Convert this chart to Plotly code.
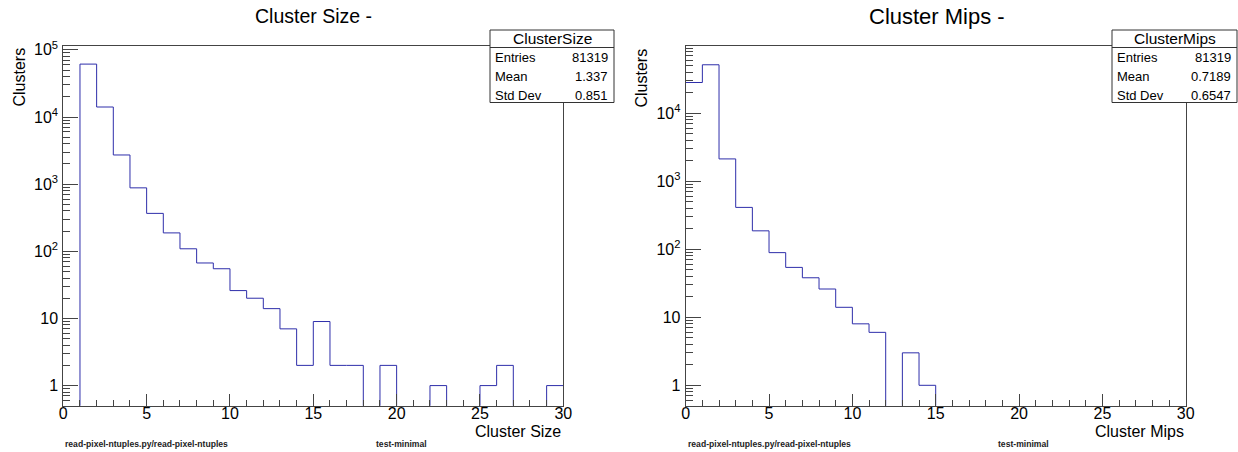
import plotly.graph_objects as go
import numpy as np

W, H = 1238, 452

# ---- data ----
bin_edges = list(range(0, 31))  # 30 bins of width 1 from 0 to 30
size_counts = [0, 61400, 14100, 2720, 881, 367, 188, 109, 67, 55,
               26, 20, 14, 7, 2, 9, 2, 2, 0, 2,
               0, 0, 1, 0, 0, 1, 2, 0, 0, 1]
mips_counts = [28100, 51200, 2120, 411, 186, 89, 54, 38, 26, 14,
               8, 6, 0, 3, 1, 0, 0, 0, 0, 0,
               0, 0, 0, 0, 0, 0, 0, 0, 0, 0]
titles = ["Cluster Size -", "Cluster Mips -"]
xtitles = ["Cluster Size", "Cluster Mips"]
stat_names = ["ClusterSize", "ClusterMips"]
stat_labels = ["Entries", "Mean", "Std Dev"]
size_stats = ["81319", "1.337", "0.851"]
mips_stats = ["81319", "0.7189", "0.6547"]
ytickvals = [1, 10, 100, 1e3, 1e4, 1e5]
yticktext = ["1", "10", "10<sup>2</sup>", "10<sup>3</sup>", "10<sup>4</sup>", "10<sup>5</sup>"]
ymin = 0.5
ymax_size = 1.15e5
ymax_mips = 9.73e4
footer_left = "read-pixel-ntuples.py/read-pixel-ntuples"
footer_mid = "test-minimal"

FONT = "Liberation Sans, Arial, sans-serif"
LINE = "#2e2eaa"
AX = "#444444"

def px(x):
    return x / W

def py(y):
    return 1 - y / H

fig = go.Figure()

for i, counts in enumerate([size_counts, mips_counts]):
    # empty bins fall below the log-axis floor (drawn clipped, like ROOT)
    ys = [c if c > 0 else ymin * 0.2 for c in counts]
    ys = ys + [ys[-1]]
    fig.add_trace(go.Scatter(
        x=bin_edges, y=ys, mode="lines", line=dict(color=LINE, width=1, shape="hv"),
        xaxis="x" if i == 0 else "x2", yaxis="y" if i == 0 else "y2",
        showlegend=False, hoverinfo="skip"))

minor_vals = [m * 10 ** k for k in range(-1, 6) for m in range(2, 10)]

xdoms = [[px(63.3), px(563.3)], [px(685.7), px(1185.7)]]
ydom = [py(405.8), py(45.8)]

def xaxis(dom, anchor):
    return dict(domain=dom, anchor=anchor, range=[0, 30], tickvals=[0, 5, 10, 15, 20, 25, 30],
                ticks="inside", ticklen=12, tickwidth=1, tickcolor=AX, ticklabelstandoff=-7,
                minor=dict(ticks="inside", ticklen=6, dtick=1, tickcolor=AX, tickwidth=1, showgrid=False),
                showline=True, linecolor=AX, linewidth=1, mirror=True, showgrid=False, zeroline=False,
                tickfont=dict(family=FONT, size=16, color="black"), automargin=False)

def yaxis(top, anchor):
    return dict(domain=ydom, anchor=anchor, type="log", range=[np.log10(ymin), np.log10(top)],
                tickvals=ytickvals, ticktext=yticktext,
                ticks="inside", ticklen=15, tickwidth=1, tickcolor=AX, ticklabelstandoff=1,
                minor=dict(ticks="inside", ticklen=7, tickvals=minor_vals, tickcolor=AX, tickwidth=1, showgrid=False),
                showline=True, linecolor=AX, linewidth=1, mirror=True, showgrid=False, zeroline=False,
                tickfont=dict(family=FONT, size=16, color="black"), automargin=False)

fig.update_layout(
    width=W, height=H, margin=dict(l=0, r=0, t=0, b=0, autoexpand=False),
    paper_bgcolor="white", plot_bgcolor="white",
    xaxis=xaxis(xdoms[0], "y"), yaxis=yaxis(ymax_size, "x"),
    xaxis2=xaxis(xdoms[1], "y2"), yaxis2=yaxis(ymax_mips, "x2"),
)

ann = []
shapes = []

# titles
ann.append(dict(text=titles[0], x=px(313.3), y=py(15.5), xref="paper", yref="paper",
                showarrow=False, font=dict(family=FONT, size=19.5, color="black"),
                xanchor="center", yanchor="middle"))
ann.append(dict(text=titles[1], x=px(936.5), y=py(16.5), xref="paper", yref="paper",
                showarrow=False, font=dict(family=FONT, size=22, color="black"),
                xanchor="center", yanchor="middle"))

# axis titles
for i, xr in enumerate([563.3, 1185.7]):
    ann.append(dict(text=xtitles[i], x=px(xr), y=py(431), xref="paper", yref="paper",
                    showarrow=False, font=dict(family=FONT, size=16, color="black"),
                    xanchor="right", yanchor="middle"))
for xc, yt in [(18.5, 45.5), (641.5, 46.5)]:
    ann.append(dict(text="Clusters", x=px(xc), y=py(yt), xref="paper", yref="paper", textangle=-90,
                    showarrow=False, font=dict(family=FONT, size=16, color="black"),
                    xanchor="center", yanchor="top"))

# footers
for xl, xm in [(63.3, 401), (685.7, 1023.5)]:
    ann.append(dict(text="<b>" + footer_left + "</b>", x=px(xl), y=py(443.5), xref="paper", yref="paper",
                    showarrow=False, font=dict(family=FONT, size=8.6, color="#222222"),
                    xanchor="left", yanchor="middle"))
    ann.append(dict(text="<b>" + footer_mid + "</b>", x=px(xm), y=py(444), xref="paper", yref="paper",
                    showarrow=False, font=dict(family=FONT, size=8.6, color="#222222"),
                    xanchor="center", yanchor="middle"))

# stats boxes
for (bx0, bx1), name, vals in [((490, 614), stat_names[0], size_stats),
                               ((1112, 1237), stat_names[1], mips_stats)]:
    shapes.append(dict(type="rect", xref="paper", yref="paper", x0=px(bx0), x1=px(bx1),
                       y0=py(102.5), y1=py(30), fillcolor="white", line=dict(color="#333333", width=1),
                       layer="above"))
    shapes.append(dict(type="line", xref="paper", yref="paper", x0=px(bx0), x1=px(bx1),
                       y0=py(47.5), y1=py(47.5), line=dict(color="#333333", width=1), layer="above"))
    ann.append(dict(text=name, x=px((bx0 + bx1) / 2), y=py(38.8), xref="paper", yref="paper",
                    showarrow=False, font=dict(family=FONT, size=15.5, color="black"),
                    xanchor="center", yanchor="middle"))
    for j, (lab, v) in enumerate(zip(stat_labels, vals)):
        yy = [57.5, 76, 95][j]
        ann.append(dict(text=lab, x=px(bx0 + 3), y=py(yy), xref="paper", yref="paper",
                        showarrow=False, font=dict(family=FONT, size=13, color="black"),
                        xanchor="left", yanchor="middle"))
        ann.append(dict(text=v, x=px(bx1 - 4), y=py(yy), xref="paper", yref="paper",
                        showarrow=False, font=dict(family=FONT, size=13, color="black"),
                        xanchor="right", yanchor="middle"))

fig.update_layout(annotations=ann, shapes=shapes)
fig.write_html("out.html")
